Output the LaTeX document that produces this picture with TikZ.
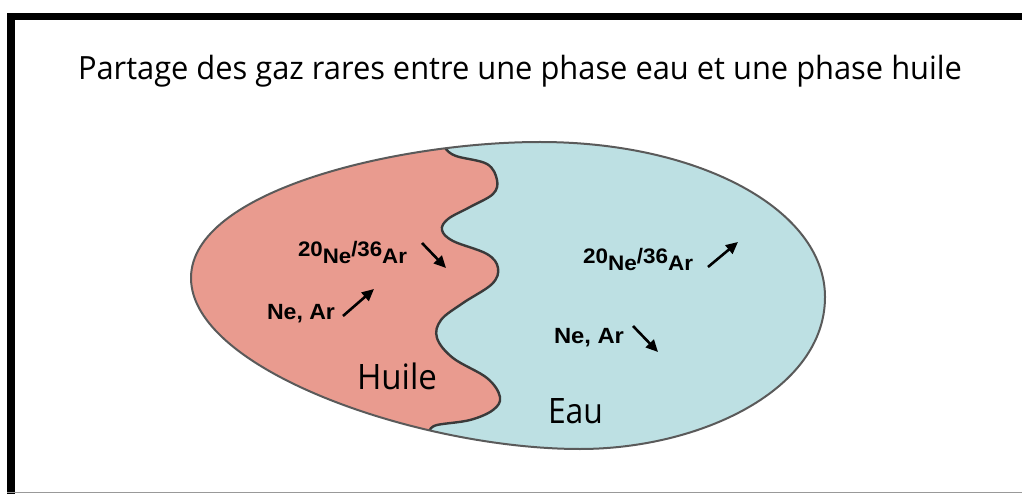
\documentclass[tikz,border=0pt]{standalone}
\usepackage{fontspec}
\setmainfont{Open Sans}
\newfontfamily\labfont{Liberation Sans}
\usetikzlibrary{arrows.meta}
\definecolor{huilecol}{HTML}{E99B8F}
\definecolor{eaucol}{HTML}{BDE0E3}
\definecolor{linecol}{HTML}{5A5A5A}
\definecolor{wavecol}{HTML}{3A3A3A}
\begin{document}
\begin{tikzpicture}[x=1pt,y=-1pt,
  lbl/.style={anchor=base west, inner sep=0pt, outer sep=0pt, font=\labfont\bfseries},
  big/.style={anchor=base west, inner sep=0pt, outer sep=0pt},
  arr/.style={line width=2.6pt, black, -{Triangle[length=12pt,width=11pt]}},
  outline/.style={draw=linecol, line width=2pt},
  waveline/.style={draw=wavecol, line width=2.4pt}]
\useasboundingbox (0,0) rectangle (1022,494);
\fill[white] (0,0) rectangle (1022,494);
% frame
\fill[black] (7,13) rectangle (15,494);
\fill[black] (7,13) rectangle (1022,20);
\fill[gray!80] (7,491.6) rectangle (1022,493);
% title
\node[big] (title) at (78,80) {\resizebox{884pt}{\height}{\fontsize{32}{36}\selectfont Partage des gaz rares entre une phase eau et une phase huile}};
% outer shape
\path[save path=\outerp] (191,278) .. controls (191,190) and (400,142) .. (540,142)
  .. controls (700,142) and (825,210) .. (825,297)
  .. controls (825,390) and (700,449) .. (580,449)
  .. controls (420,449) and (191,370) .. (191,278) -- cycle;
\fill[eaucol, use path=\outerp];
\begin{scope}
\clip[use path=\outerp];
\fill[huilecol] (150,100) -- (442,100) -- plot[smooth, tension=0.6] coordinates {
 (442,140) (445,148) (456,156) (487,164) (497,180) (493,194) (470,207) (448,219) (442,230)
 (453,241) (487,254) (498,268) (492,284) (463,303) (441,320) (437,338)
 (453,358) (487,378) (500,397) (493,410) (470,420) (437,425) (430,430)}
 -- (430,480) -- (150,480) -- cycle;
\draw[waveline] plot[smooth, tension=0.6] coordinates {
 (442,140) (445,148) (456,156) (487,164) (497,180) (493,194) (470,207) (448,219) (442,230)
 (453,241) (487,254) (498,268) (492,284) (463,303) (441,320) (437,338)
 (453,358) (487,378) (500,397) (493,410) (470,420) (437,425) (430,430)};
\end{scope}
\draw[outline, use path=\outerp];
% labels
\node[big] (huile) at (357,389) {\resizebox{80pt}{\height}{\fontsize{35}{40}\selectfont Huile}};
\node[big] (eau) at (548,423) {\resizebox{55pt}{\height}{\fontsize{35}{40}\selectfont Eau}};
\node[lbl] (ratioH) at (298,263) {\resizebox{109pt}{\height}{\fontsize{21}{24}\selectfont\raisebox{6pt}{20}Ne\raisebox{6pt}{/36}Ar}};
\node[lbl] (ratioE) at (583,270) {\resizebox{110pt}{\height}{\fontsize{21}{24}\selectfont\raisebox{6pt}{20}Ne\raisebox{6pt}{/36}Ar}};
\node[lbl] (neH) at (267,319) {\resizebox{68pt}{\height}{\fontsize{22}{26}\selectfont Ne, Ar}};
\node[lbl] (neE) at (554,343) {\resizebox{70pt}{\height}{\fontsize{22}{26}\selectfont Ne, Ar}};
% arrows
\coordinate (a1s) at (422,243); \coordinate (a1e) at (446,268);
\coordinate (a2s) at (343,316); \coordinate (a2e) at (374,289);
\coordinate (a3s) at (708,267); \coordinate (a3e) at (738,242);
\coordinate (a4s) at (633,326); \coordinate (a4e) at (658,352);
\draw[arr] (a1s) -- (a1e);
\draw[arr] (a2s) -- (a2e);
\draw[arr] (a3s) -- (a3e);
\draw[arr] (a4s) -- (a4e);
\end{tikzpicture}
\end{document}
